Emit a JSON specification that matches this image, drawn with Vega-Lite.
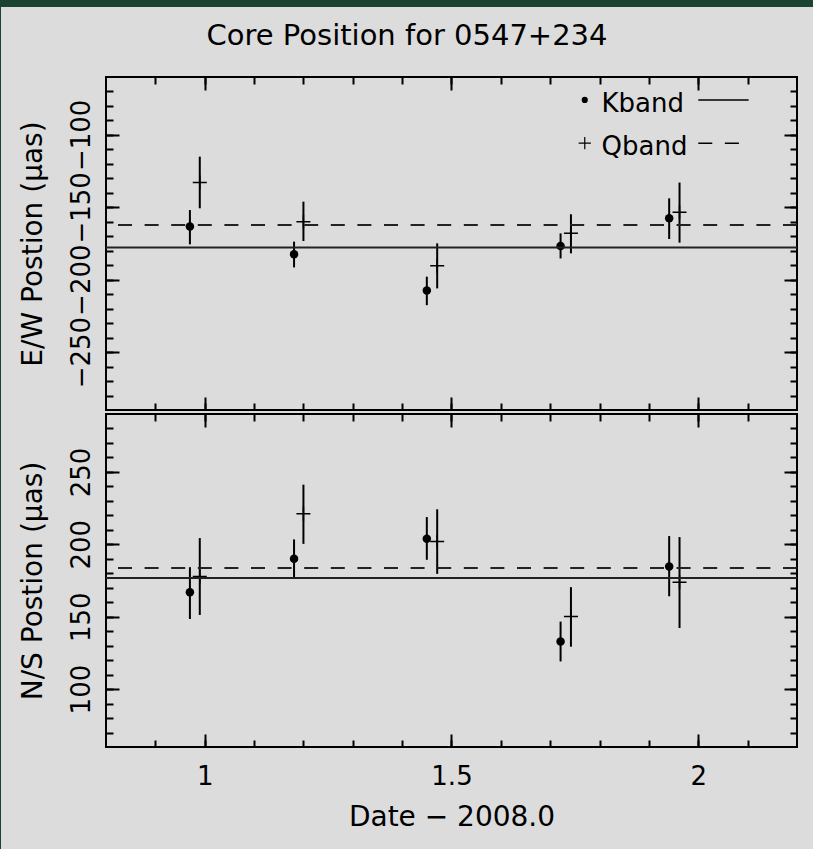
{
  "$schema": "https://vega.github.io/schema/vega-lite/v6.json",
  "padding": 0,
  "background": "#dcdcdc",
  "datasets": {
    "pts": [
      {"panel": "EW", "band": "K", "date": 0.970, "value": -163.3, "lo": -175.6, "hi": -151.9},
      {"panel": "EW", "band": "K", "date": 1.181, "value": -182.5, "lo": -191.5, "hi": -173.7},
      {"panel": "EW", "band": "K", "date": 1.450, "value": -207.4, "lo": -217.6, "hi": -197.9},
      {"panel": "EW", "band": "K", "date": 1.721, "value": -176.8, "lo": -185.3, "hi": -168.0},
      {"panel": "EW", "band": "K", "date": 1.941, "value": -157.6, "lo": -171.9, "hi": -143.8},
      {"panel": "EW", "band": "Q", "date": 0.990, "value": -132.9, "lo": -150.7, "hi": -115.0},
      {"panel": "EW", "band": "Q", "date": 1.200, "value": -159.9, "lo": -173.3, "hi": -146.1},
      {"panel": "EW", "band": "Q", "date": 1.471, "value": -190.3, "lo": -206.0, "hi": -174.9},
      {"panel": "EW", "band": "Q", "date": 1.742, "value": -168.0, "lo": -181.8, "hi": -154.8},
      {"panel": "EW", "band": "Q", "date": 1.962, "value": -153.5, "lo": -174.4, "hi": -132.9},
      {"panel": "NS", "band": "K", "date": 0.970, "value": 166.9, "lo": 148.4, "hi": 184.2},
      {"panel": "NS", "band": "K", "date": 1.181, "value": 190.0, "lo": 176.1, "hi": 203.4},
      {"panel": "NS", "band": "K", "date": 1.450, "value": 203.8, "lo": 189.3, "hi": 218.8},
      {"panel": "NS", "band": "K", "date": 1.721, "value": 132.9, "lo": 119.1, "hi": 146.6},
      {"panel": "NS", "band": "K", "date": 1.941, "value": 184.7, "lo": 164.1, "hi": 205.7},
      {"panel": "NS", "band": "Q", "date": 0.990, "value": 177.8, "lo": 151.2, "hi": 204.3},
      {"panel": "NS", "band": "Q", "date": 1.200, "value": 221.1, "lo": 200.3, "hi": 241.2},
      {"panel": "NS", "band": "Q", "date": 1.471, "value": 202.0, "lo": 179.6, "hi": 224.2},
      {"panel": "NS", "band": "Q", "date": 1.742, "value": 150.1, "lo": 129.3, "hi": 170.4},
      {"panel": "NS", "band": "Q", "date": 1.962, "value": 173.8, "lo": 142.2, "hi": 205.0}
    ],
    "means": [
      {"panel": "EW", "band": "K", "mean": -177.7},
      {"panel": "EW", "band": "Q", "mean": -162.2},
      {"panel": "NS", "band": "K", "mean": 176.8},
      {"panel": "NS", "band": "Q", "mean": 183.7}
    ]
  },
  "spacing": 0,
  "hconcat": [
    {
      "width": 1, "height": 849,
      "view": {"fill": "#1a4330", "stroke": null},
      "data": {"values": []},
      "mark": "point"
    },
    {
      "spacing": 24,
      "vconcat": [
        {
          "width": 812, "height": 7,
          "view": {"fill": "#1a4330", "stroke": null},
          "data": {"values": []},
          "mark": "point",
          "title": {
            "text": "Core Position for 0547+234",
            "orient": "bottom", "anchor": "middle", "offset": 15,
            "fontSize": 29, "fontWeight": "normal", "color": "black"
          }
        },
        {
          "spacing": 15,
          "hconcat": [
            {"width": 1, "height": 1, "data": {"values": []}, "mark": "point"},
            {
              "spacing": 0,
              "vconcat": [
                {
                  "width": 691, "height": 333,
                  "view": {"stroke": "black", "strokeWidth": 2},
                  "data": {"name": "pts"},
                  "transform": [{"filter": "datum.panel === 'EW'"}],
                  "resolve": {"axis": {"x": "independent", "y": "independent"}},
                  "layer": [
                    {
                      "transform": [{"filter": "datum.band === 'K'"}],
                      "mark": {"type": "rule", "strokeWidth": 2, "color": "black"},
                      "encoding": {
                        "x": {"field": "date", "type": "quantitative",
                              "scale": {"domain": [0.8, 2.2], "nice": false, "zero": false},
                              "axis": {"orient": "bottom", "values": [1, 1.5, 2], "tickSize": -13, "labels": false, "title": null}},
                        "y": {"field": "lo", "type": "quantitative",
                              "scale": {"domain": [-290, -60], "nice": false, "zero": false},
                              "axis": {"orient": "left", "values": [-250, -200, -150, -100], "tickSize": -13,
                                       "labels": true, "labelAngle": 270, "labelAlign": "center", "labelBaseline": "bottom",
                                       "labelPadding": 25, "labelOverlap": false, "labelFlush": false,
                                       "title": "E/W Postion (μas)", "titlePadding": 21}},
                        "y2": {"field": "hi"}
                      }
                    },
                    {
                      "transform": [{"filter": "datum.band === 'Q'"}],
                      "mark": {"type": "rule", "strokeWidth": 2, "color": "black"},
                      "encoding": {
                        "x": {"field": "date", "type": "quantitative",
                              "axis": {"orient": "top", "values": [1, 1.5, 2], "tickSize": -13, "labels": false, "title": null}},
                        "y": {"field": "lo", "type": "quantitative",
                              "axis": {"orient": "right", "values": [-250, -200, -150, -100], "tickSize": -13, "labels": false, "title": null}},
                        "y2": {"field": "hi"}
                      }
                    },
                    {
                      "transform": [{"filter": "datum.band === 'K'"}],
                      "mark": {"type": "point", "shape": "circle", "filled": true, "size": 72, "color": "black", "opacity": 1},
                      "encoding": {
                        "x": {"field": "date", "type": "quantitative",
                              "axis": {"orient": "bottom", "values": [0.9, 1.0, 1.1, 1.2, 1.3, 1.4, 1.5, 1.6, 1.7, 1.8, 1.9, 2.0, 2.1], "tickSize": -7, "labels": false, "title": null}},
                        "y": {"field": "value", "type": "quantitative",
                              "axis": {"orient": "left", "values": [-280, -270, -260, -250, -240, -230, -220, -210, -200, -190, -180, -170, -160, -150, -140, -130, -120, -110, -100, -90, -80, -70], "tickSize": -7, "labels": false, "title": null}}
                      }
                    },
                    {
                      "transform": [{"filter": "datum.band === 'Q'"}],
                      "mark": {"type": "point", "shape": "M-1,0L1,0M0,-1L0,1", "filled": false, "size": 196, "color": "black", "strokeWidth": 1.5, "opacity": 1},
                      "encoding": {
                        "x": {"field": "date", "type": "quantitative",
                              "axis": {"orient": "top", "values": [0.9, 1.0, 1.1, 1.2, 1.3, 1.4, 1.5, 1.6, 1.7, 1.8, 1.9, 2.0, 2.1], "tickSize": -7, "labels": false, "title": null}},
                        "y": {"field": "value", "type": "quantitative",
                              "axis": {"orient": "right", "values": [-280, -270, -260, -250, -240, -230, -220, -210, -200, -190, -180, -170, -160, -150, -140, -130, -120, -110, -100, -90, -80, -70], "tickSize": -7, "labels": false, "title": null}}
                      }
                    },
                    {
                      "data": {"name": "means"},
                      "transform": [{"filter": "datum.panel === 'EW'"}],
                      "mark": {"type": "rule", "strokeWidth": 2, "color": "#222222"},
                      "encoding": {
                        "y": {"field": "mean", "type": "quantitative", "axis": null},
                        "strokeDash": {"field": "band", "type": "nominal", "legend": null,
                                       "scale": {"domain": ["K", "Q"], "range": [[1, 0], [14, 12.6]]}}
                      }
                    },
                    {
                      "data": {"values": [{"label": "Kband"}]},
                      "layer": [
                        {
                          "mark": {"type": "point", "shape": "circle", "filled": true, "size": 38, "color": "black", "opacity": 1},
                          "encoding": {
                            "x": {"datum": 1.770, "type": "quantitative", "axis": null},
                            "y": {"datum": -75.8, "type": "quantitative", "axis": null}
                          }
                        },
                        {
                          "mark": {"type": "text", "align": "left", "baseline": "middle", "fontSize": 26, "color": "black"},
                          "encoding": {
                            "x": {"datum": 1.804, "type": "quantitative", "axis": null},
                            "y": {"datum": -78.6, "type": "quantitative", "axis": null},
                            "text": {"field": "label"}
                          }
                        },
                        {
                          "mark": {"type": "rule", "strokeWidth": 1.5, "color": "black"},
                          "encoding": {
                            "x": {"datum": 2.000, "type": "quantitative", "axis": null},
                            "x2": {"datum": 2.102},
                            "y": {"datum": -75.8, "type": "quantitative", "axis": null}
                          }
                        }
                      ]
                    },
                    {
                      "data": {"values": [{"label": "Qband"}]},
                      "layer": [
                        {
                          "mark": {"type": "point", "shape": "M-1,0L1,0M0,-1L0,1", "filled": false, "size": 150, "strokeWidth": 1.2, "color": "black", "opacity": 1},
                          "encoding": {
                            "x": {"datum": 1.770, "type": "quantitative", "axis": null},
                            "y": {"datum": -105.7, "type": "quantitative", "axis": null}
                          }
                        },
                        {
                          "mark": {"type": "text", "align": "left", "baseline": "middle", "fontSize": 26, "color": "black"},
                          "encoding": {
                            "x": {"datum": 1.804, "type": "quantitative", "axis": null},
                            "y": {"datum": -108.3, "type": "quantitative", "axis": null},
                            "text": {"field": "label"}
                          }
                        },
                        {
                          "mark": {"type": "rule", "strokeWidth": 1.5, "color": "black", "strokeDash": [14, 12.6]},
                          "encoding": {
                            "x": {"datum": 2.000, "type": "quantitative", "axis": null},
                            "x2": {"datum": 2.083},
                            "y": {"datum": -105.7, "type": "quantitative", "axis": null}
                          }
                        }
                      ]
                    }
                  ]
                },
                {
                  "width": 691, "height": 333,
                  "view": {"stroke": "black", "strokeWidth": 2},
                  "data": {"name": "pts"},
                  "transform": [{"filter": "datum.panel === 'NS'"}],
                  "resolve": {"axis": {"x": "independent", "y": "independent"}},
                  "layer": [
                    {
                      "transform": [{"filter": "datum.band === 'K'"}],
                      "mark": {"type": "rule", "strokeWidth": 2, "color": "black"},
                      "encoding": {
                        "x": {"field": "date", "type": "quantitative",
                              "scale": {"domain": [0.8, 2.2], "nice": false, "zero": false},
                              "axis": {"orient": "bottom", "values": [1, 1.5, 2], "tickSize": -13, "labels": true, "format": "~g",
                                       "labelPadding": 29, "labelFlush": false, "labelOverlap": false,
                                       "title": "Date − 2008.0", "titlePadding": 14}},
                        "y": {"field": "lo", "type": "quantitative",
                              "scale": {"domain": [60, 290], "nice": false, "zero": false},
                              "axis": {"orient": "left", "values": [100, 150, 200, 250], "tickSize": -13,
                                       "labels": true, "labelAngle": 270, "labelAlign": "center", "labelBaseline": "bottom",
                                       "labelPadding": 25, "labelOverlap": false, "labelFlush": false,
                                       "title": "N/S Postion (μas)", "titlePadding": 21}},
                        "y2": {"field": "hi"}
                      }
                    },
                    {
                      "transform": [{"filter": "datum.band === 'Q'"}],
                      "mark": {"type": "rule", "strokeWidth": 2, "color": "black"},
                      "encoding": {
                        "x": {"field": "date", "type": "quantitative",
                              "axis": {"orient": "top", "values": [1, 1.5, 2], "tickSize": -13, "labels": false, "title": null}},
                        "y": {"field": "lo", "type": "quantitative",
                              "axis": {"orient": "right", "values": [100, 150, 200, 250], "tickSize": -13, "labels": false, "title": null}},
                        "y2": {"field": "hi"}
                      }
                    },
                    {
                      "transform": [{"filter": "datum.band === 'K'"}],
                      "mark": {"type": "point", "shape": "circle", "filled": true, "size": 72, "color": "black", "opacity": 1},
                      "encoding": {
                        "x": {"field": "date", "type": "quantitative",
                              "axis": {"orient": "bottom", "values": [0.9, 1.0, 1.1, 1.2, 1.3, 1.4, 1.5, 1.6, 1.7, 1.8, 1.9, 2.0, 2.1], "tickSize": -7, "labels": false, "title": null}},
                        "y": {"field": "value", "type": "quantitative",
                              "axis": {"orient": "left", "values": [70, 80, 90, 100, 110, 120, 130, 140, 150, 160, 170, 180, 190, 200, 210, 220, 230, 240, 250, 260, 270, 280], "tickSize": -7, "labels": false, "title": null}}
                      }
                    },
                    {
                      "transform": [{"filter": "datum.band === 'Q'"}],
                      "mark": {"type": "point", "shape": "M-1,0L1,0M0,-1L0,1", "filled": false, "size": 196, "color": "black", "strokeWidth": 1.5, "opacity": 1},
                      "encoding": {
                        "x": {"field": "date", "type": "quantitative",
                              "axis": {"orient": "top", "values": [0.9, 1.0, 1.1, 1.2, 1.3, 1.4, 1.5, 1.6, 1.7, 1.8, 1.9, 2.0, 2.1], "tickSize": -7, "labels": false, "title": null}},
                        "y": {"field": "value", "type": "quantitative",
                              "axis": {"orient": "right", "values": [70, 80, 90, 100, 110, 120, 130, 140, 150, 160, 170, 180, 190, 200, 210, 220, 230, 240, 250, 260, 270, 280], "tickSize": -7, "labels": false, "title": null}}
                      }
                    },
                    {
                      "data": {"name": "means"},
                      "transform": [{"filter": "datum.panel === 'NS'"}],
                      "mark": {"type": "rule", "strokeWidth": 2, "color": "#222222"},
                      "encoding": {
                        "y": {"field": "mean", "type": "quantitative", "axis": null},
                        "strokeDash": {"field": "band", "type": "nominal", "legend": null,
                                       "scale": {"domain": ["K", "Q"], "range": [[1, 0], [14, 12.6]]}}
                      }
                    }
                  ]
                }
              ]
            }
          ]
        }
      ]
    }
  ],
  "config": {
    "font": "DejaVu Sans",
    "view": {"stroke": null},
    "axis": {
      "domain": false,
      "grid": false,
      "ticks": true,
      "tickColor": "black",
      "tickWidth": 2,
      "labelColor": "black",
      "labelFontSize": 26,
      "titleColor": "black",
      "titleFontSize": 28,
      "titleFontWeight": "normal"
    }
  }
}
